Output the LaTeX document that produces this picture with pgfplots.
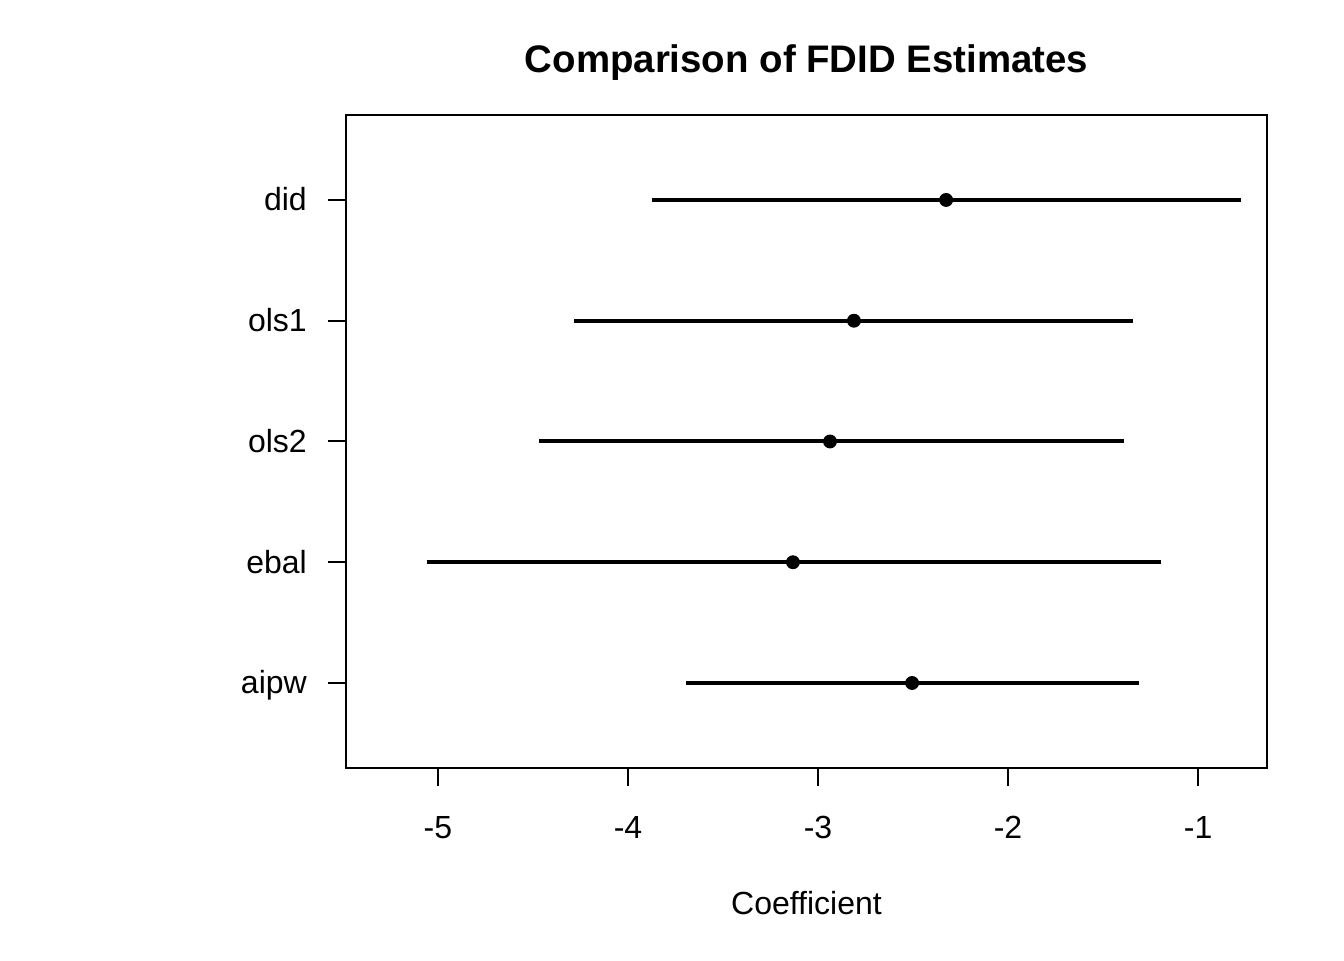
\documentclass[border=0pt]{standalone}
\usepackage{fontspec}
\setmainfont{Liberation Sans}
\usepackage{pgfplots}
\pgfplotsset{compat=1.18}
\begin{document}
\fontsize{12pt}{14pt}\selectfont
\begin{tikzpicture}
\useasboundingbox (0,0) rectangle (504pt,360pt);
\begin{axis}[
  at={(129.75pt,72pt)}, anchor=south west,
  scale only axis, width=345.4pt, height=244.9pt,
  xmin=-5.484, xmax=-0.637, ymin=0.296, ymax=5.704,
  axis line style={line width=0.75pt},
  tick style={line width=0.75pt, black},
  tick align=outside, major tick length=6.75pt,
  xtick pos=bottom, ytick pos=left,
  xtick={-5,-4,-3,-2,-1},
  xticklabels={-5,-4,-3,-2,-1},
  ytick={1,2,3,4,5},
  yticklabels={aipw,ebal,ols2,ols1,did},
  xticklabel style={anchor=base, yshift=-19.85pt},
  yticklabel style={anchor=base east, xshift=-3.75pt, yshift=-4.1pt},
  typeset ticklabels with strut=false,
  xlabel={Coefficient},
  xlabel style={at={(axis description cs:0.5,0)}, anchor=base, yshift=-54.75pt},
  title={\fontsize{14.4pt}{17pt}\selectfont\bfseries Comparison of FDID Estimates},
  title style={at={(axis description cs:0.5,1)}, anchor=base, yshift=9.8pt},
  clip=false,
]
\addplot[black, line width=1.5pt] coordinates {(-3.874,5) (-0.774,5)};
\addplot[black, line width=1.5pt] coordinates {(-4.284,4) (-1.342,4)};
\addplot[black, line width=1.5pt] coordinates {(-4.468,3) (-1.389,3)};
\addplot[black, line width=1.5pt] coordinates {(-5.058,2) (-1.195,2)};
\addplot[black, line width=1.5pt] coordinates {(-3.695,1) (-1.311,1)};
\addplot[only marks, mark=*, mark size=2.4pt, black] coordinates {
(-2.326,5) (-2.811,4) (-2.937,3) (-3.132,2) (-2.505,1)};
\end{axis}
\end{tikzpicture}
\end{document}
